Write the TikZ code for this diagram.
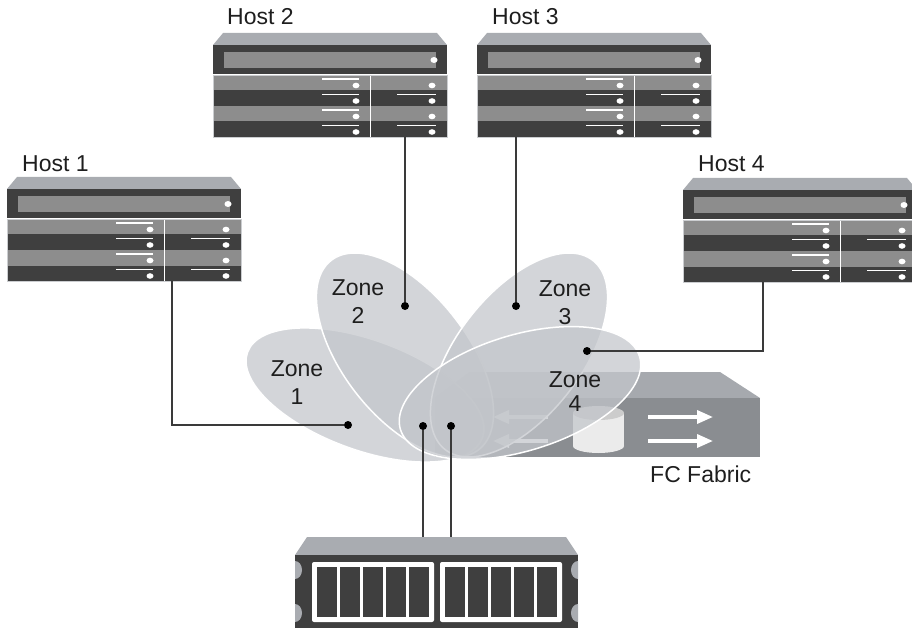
\documentclass[tikz,border=0pt]{standalone}
\usepackage{fontspec}
\setmainfont{Liberation Sans}
\usetikzlibrary{arrows.meta}
\definecolor{lidgray}{HTML}{A9ACB1}
\definecolor{hostdark}{HTML}{3F3F3F}
\definecolor{hostmid}{HTML}{8D8D8D}
\definecolor{zonefill}{RGB}{195,198,203}
\definecolor{fablid}{HTML}{A6A9AE}
\definecolor{fabfront}{HTML}{8A8D91}
\definecolor{linkgray}{HTML}{3A3A3A}
\definecolor{textdark}{HTML}{1E1E1E}
\tikzset{
	hostlabel/.style = {
		inner sep=0pt,
		anchor=base west,
		text=textdark,
		font=\fontsize{23}{28}\selectfont
	},
	zonelabel/.style = {
		hostlabel,
		anchor=center,
		align=center
	},
	zone/.style = {
		fill=zonefill,
		fill opacity=0.73,
		draw=white,
		line width=1.5pt
	},
	link/.style = {
		draw=linkgray,
		line width=1.3pt
	},
	port/.style = {
		circle,
		fill=black,
		inner sep=0pt,
		minimum size=8pt
	},
	host/.pic = {
		\fill[lidgray] (0,0) -- (10,-12) -- (224,-12) -- (234,0) -- cycle;
		\fill[hostdark] (0,0) rectangle (234,92);
		\fill[hostmid] (11,7) rectangle (223,23);
		\fill[white] (221,15) ellipse [x radius=3.5, y radius=3];
		\foreach \r/\c in {0/hostmid,1/hostdark,2/hostmid,3/hostdark} {
			\fill[\c] (0,30+15.5*\r) rectangle (234,45.5+15.5*\r);
			\draw[white, line width=1.2pt] (109,34+15.5*\r) -- (146,34+15.5*\r);
			\fill[white] (143,40.5+15.5*\r) ellipse [x radius=3.5, y radius=2.8];
			\fill[white] (219,40.5+15.5*\r) ellipse [x radius=3.5, y radius=2.8];
		}
		\foreach \r in {1,3}
			\draw[white, line width=1.2pt] (184,34+15.5*\r) -- (223,34+15.5*\r);
		\draw[white, line width=1pt] (0,30) -- (234,30) (157,30) -- (157,92);
		\draw[lidgray!60, line width=0.6pt] (0,30) rectangle (234,92);
	}
}
\begin{document}
\begin{tikzpicture}[x=1pt, y=-1pt]
\useasboundingbox (0,0) rectangle (912,628);

% FC switch
\fill[fablid] (435,398) -- (470,372) -- (720,372) -- (760,398) -- cycle;
\fill[fabfront] (435,398) rectangle (760,457);
\fill[white!92!black] (573,413) rectangle (624,446);
\fill[white!92!black] (598.5,446) ellipse [x radius=25.5, y radius=7];
\fill[white!80!black] (598.5,413) ellipse [x radius=25.5, y radius=7];
\foreach \ay in {417,441} {
	\draw[white, line width=3.5pt, -{Triangle[length=16pt,width=13pt]}] (648,\ay) -- (713,\ay);
	\draw[white, line width=3.5pt, -{Triangle[length=16pt,width=13pt]}] (548,\ay) -- (493,\ay);
}
\node[hostlabel] (fab) at (650,482) {FC Fabric};

% zones
\draw[zone, rotate around={-20:(365,395)}] (365,395) ellipse [x radius=125, y radius=55];
\draw[zone, rotate around={-52:(405,355)}] (405,355) ellipse [x radius=120, y radius=62];
\draw[zone, rotate around={52:(519,355)}] (519,355) ellipse [x radius=120, y radius=62];
\draw[zone, rotate around={17:(520,393)}] (520,393) ellipse [x radius=125, y radius=58];
\node[zonelabel] (zl1) at (297,383) {Zone\\1};
\node[zonelabel] (zl2) at (358,302) {Zone\\2};
\node[zonelabel] (zl3) at (565,303) {Zone\\3};
\node[zonelabel] (zl4) at (575,392) {Zone\\[-4pt]4};

% storage array
\fill[lidgray] (295,555) -- (307,537) -- (566,537) -- (578,555) -- cycle;
\fill[hostdark] (295,555) rectangle (578,640);
\begin{scope}
	\clip (295,555) rectangle (578,640);
	\foreach \tx in {295,578}
		\foreach \ty in {570,613}
			\fill[lidgray] (\tx,\ty) ellipse [x radius=7, y radius=9];
\end{scope}
\foreach \bx in {312,440} {
	\fill[white, rounded corners=2pt] (\bx,562) rectangle ++(122,60);
	\foreach \i in {0,...,4}
		\fill[hostdark] (\bx+5+22.9*\i,567) rectangle ++(20.4,50);
}

% hosts
\pic at (7,189) {host};
\pic at (213,45) {host};
\pic at (477,45) {host};
\pic at (683,190) {host};
\node[hostlabel] (hl1) at (22,172) {Host 1};
\node[hostlabel] (hl2) at (227,25) {Host 2};
\node[hostlabel] (hl3) at (492,25) {Host 3};
\node[hostlabel] (hl4) at (698,172) {Host 4};

% links
\coordinate (h1) at (172,281);
\coordinate (h2) at (405,137);
\coordinate (h3) at (516,137);
\coordinate (h4) at (763,282);
\coordinate (s1) at (423,537);
\coordinate (s2) at (451,537);
\node[port] (z1) at (348,425) {};
\node[port] (z2) at (405,306) {};
\node[port] (z3) at (516,306) {};
\node[port] (z4) at (587,351) {};
\node[port] (fa) at (423,426) {};
\node[port] (fb) at (451,426) {};
\draw[link] (h1) |- (z1);
\draw[link] (h2) -- (z2);
\draw[link] (h3) -- (z3);
\draw[link] (h4) |- (z4);
\draw[link] (fa) -- (s1);
\draw[link] (fb) -- (s2);
\end{tikzpicture}
\end{document}
